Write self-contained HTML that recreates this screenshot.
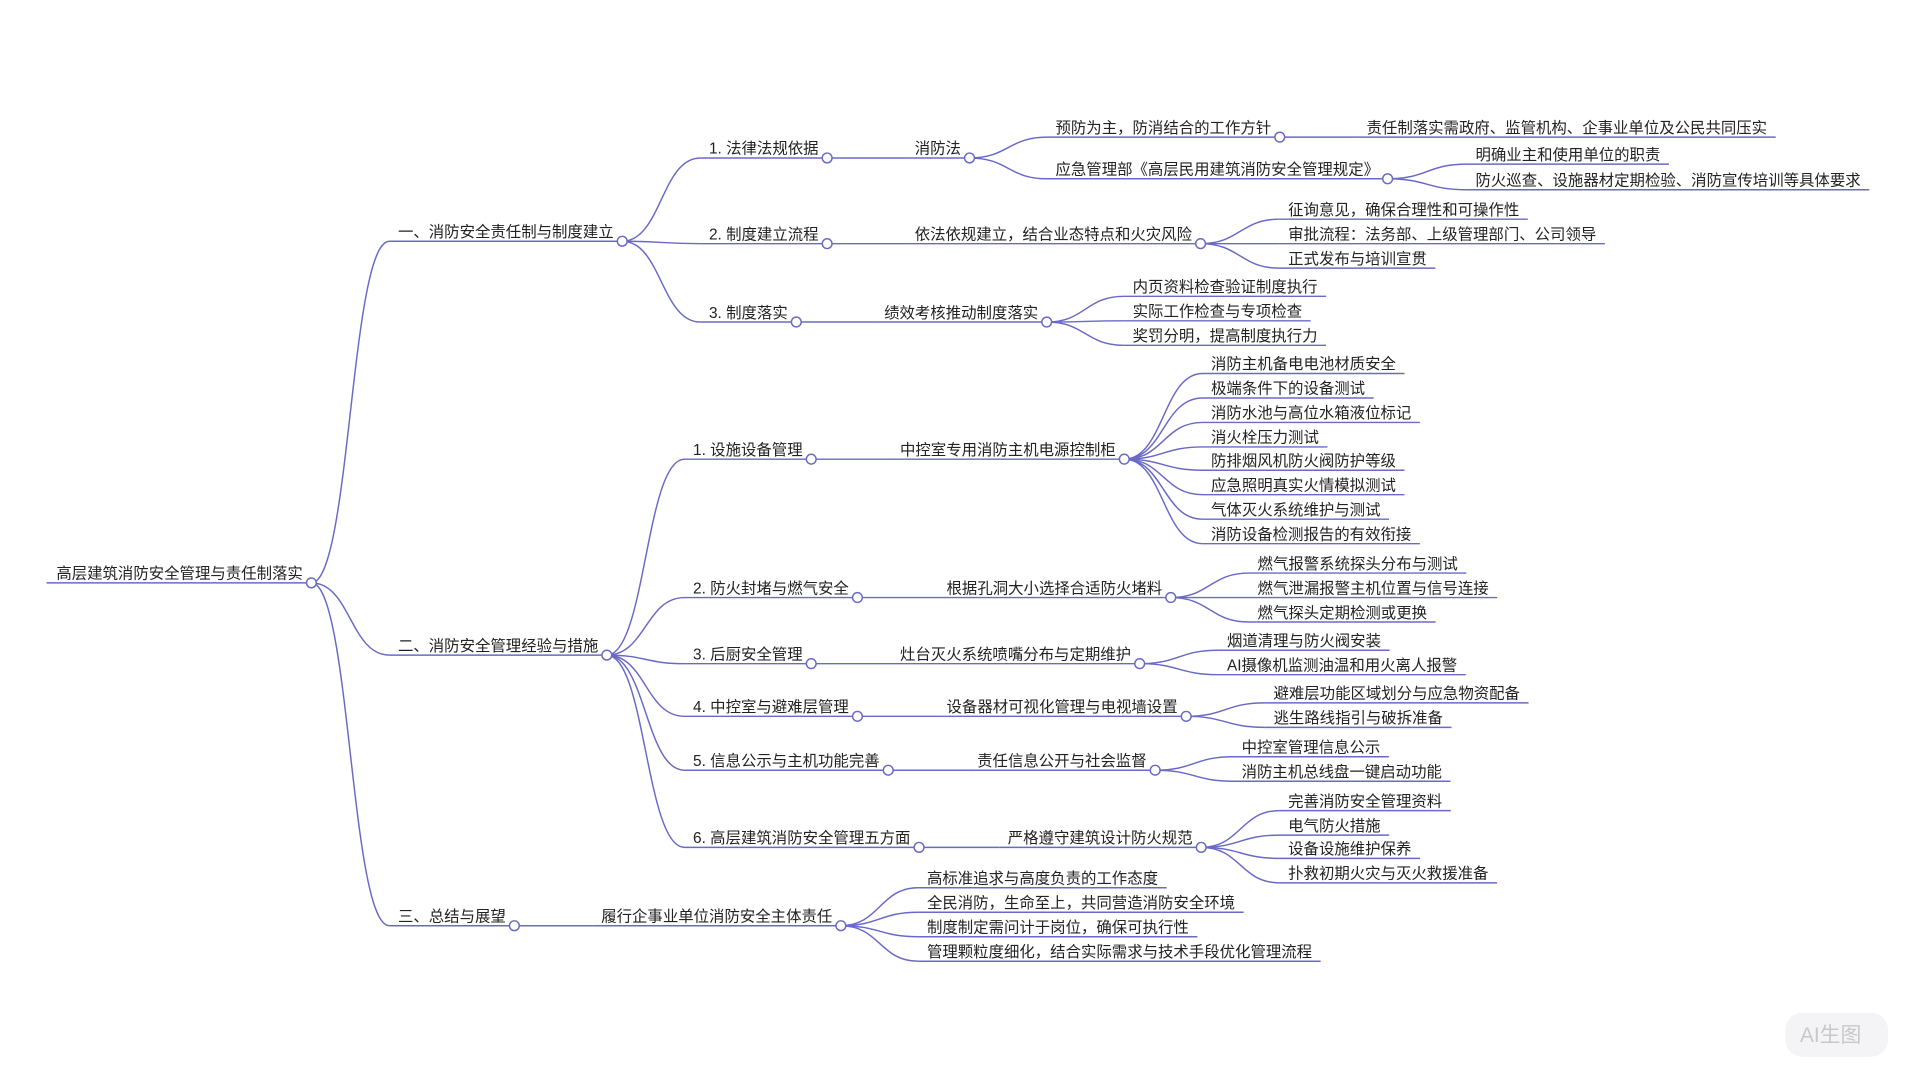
<!DOCTYPE html>
<html><head><meta charset="utf-8"><style>
html,body{margin:0;padding:0;background:#fff;width:1920px;height:1080px;overflow:hidden}
svg{display:block}
text{font-family:"Liberation Sans","Noto Sans CJK SC",sans-serif;font-size:12.6px;fill:#222}
</style></head><body>
<svg id="s" width="1920" height="1080" viewBox="0 0 1568 882" xmlns="http://www.w3.org/2000/svg">
<g id="e" fill="none" stroke="#6a6ac6" stroke-width="1.2"></g>
<g id="t"></g>
<g id="c" fill="#fff" stroke="#6a6ac6" stroke-width="1.2"></g>
<rect x="1458" y="827" width="84" height="36" rx="14" fill="#f4f4f6"/>
<text x="1470" y="851" style="font-size:17px;fill:#c8c8cc">AI生图</text>
</svg>
<script>
var D=[46,476,"高层建筑消防安全管理与责任制落实",[
 [325,197,"一、消防安全责任制与制度建立",[
  [579,129,"1. 法律法规依据",[[747,129,"消防法",[
    [862,112,"预防为主，防消结合的工作方针",[[1116,112,"责任制落实需政府、监管机构、企事业单位及公民共同压实"]]],
    [862,146,"应急管理部《高层民用建筑消防安全管理规定》",[[1205,134,"明确业主和使用单位的职责"],[1205,155,"防火巡查、设施器材定期检验、消防宣传培训等具体要求"]]]]]]],
  [579,199,"2. 制度建立流程",[[747,199,"依法依规建立，结合业态特点和火灾风险",[
    [1052,179,"征询意见，确保合理性和可操作性"],[1052,199,"审批流程：法务部、上级管理部门、公司领导"],[1052,219,"正式发布与培训宣贯"]]]]],
  [579,263,"3. 制度落实",[[722,263,"绩效考核推动制度落实",[
    [925,242,"内页资料检查验证制度执行"],[925,262,"实际工作检查与专项检查"],[925,282,"奖罚分明，提高制度执行力"]]]]]]],
 [325,535,"二、消防安全管理经验与措施",[
  [566,375,"1. 设施设备管理",[[735,375,"中控室专用消防主机电源控制柜",[
    [989,305,"消防主机备电电池材质安全"],[989,325,"极端条件下的设备测试"],[989,345,"消防水池与高位水箱液位标记"],[989,365,"消火栓压力测试"],
    [989,384,"防排烟风机防火阀防护等级"],[989,404,"应急照明真实火情模拟测试"],[989,424,"气体灭火系统维护与测试"],[989,444,"消防设备检测报告的有效衔接"]]]]],
  [566,488,"2. 防火封堵与燃气安全",[[773,488,"根据孔洞大小选择合适防火堵料",[
    [1027,468,"燃气报警系统探头分布与测试"],[1027,488,"燃气泄漏报警主机位置与信号连接"],[1027,508,"燃气探头定期检测或更换"]]]]],
  [566,542,"3. 后厨安全管理",[[735,542,"灶台灭火系统喷嘴分布与定期维护",[
    [1002,531,"烟道清理与防火阀安装"],[1002,551,"AI摄像机监测油温和用火离人报警"]]]]],
  [566,585,"4. 中控室与避难层管理",[[773,585,"设备器材可视化管理与电视墙设置",[
    [1040,574,"避难层功能区域划分与应急物资配备"],[1040,594,"逃生路线指引与破拆准备"]]]]],
  [566,629,"5. 信息公示与主机功能完善",[[798,629,"责任信息公开与社会监督",[
    [1014,618,"中控室管理信息公示"],[1014,638,"消防主机总线盘一键启动功能"]]]]],
  [566,692,"6. 高层建筑消防安全管理五方面",[[823,692,"严格遵守建筑设计防火规范",[
    [1052,662,"完善消防安全管理资料"],[1052,682,"电气防火措施"],[1052,701,"设备设施维护保养"],[1052,721,"扑救初期火灾与灭火救援准备"]]]]]]],
 [325,756,"三、总结与展望",[[491,756,"履行企事业单位消防安全主体责任",[
   [757,725,"高标准追求与高度负责的工作态度"],[757,745,"全民消防，生命至上，共同营造消防安全环境"],
   [757,765,"制度制定需问计于岗位，确保可执行性"],[757,785,"管理颗粒度细化，结合实际需求与技术手段优化管理流程"]]]]]]];
var NS="http://www.w3.org/2000/svg",E=document.getElementById("e"),T=document.getElementById("t"),C=document.getElementById("c");
function mk(g,n,a){var el=document.createElementNS(NS,n);for(var k in a)el.setAttribute(k,a[k]);g.appendChild(el);return el;}
function draw(n,root){
 var x=n[0],y=n[1],t=mk(T,"text",{x:x,y:y-3.5});t.textContent=n[2];
 var w=t.getComputedTextLength(),x0=root?38:x-7,x1=x+w+7;
 mk(E,"path",{d:"M"+x0+" "+y+"H"+x1});
 if(n[3]){
  n[3].forEach(function(ch){draw(ch);var cx=ch[0]-7,cy=ch[1],m=(x1+cx)/2;
   mk(E,"path",{d:"M"+x1+" "+y+"C"+m+" "+y+" "+m+" "+cy+" "+cx+" "+cy});});
  mk(C,"circle",{cx:x1,cy:y,r:4});
 }
 return x1;
}
draw(D,true);
</script>
</body></html>
